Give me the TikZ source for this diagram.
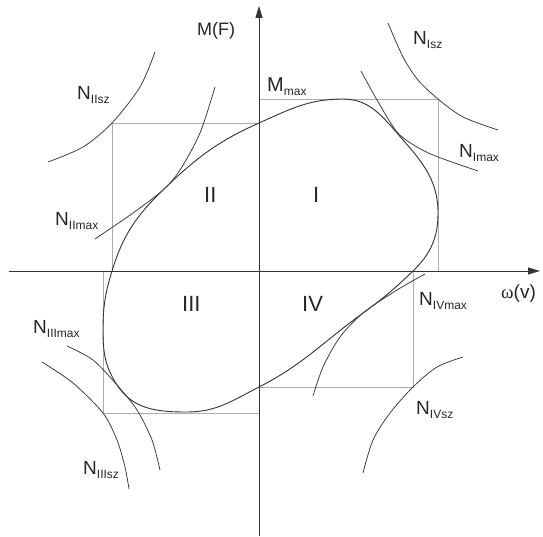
\documentclass[tikz,border=0pt]{standalone}
\usepackage{fontspec}
\setmainfont{Liberation Sans}
\newfontfamily\greekfont{Liberation Serif}
\usetikzlibrary{arrows.meta}

\newcommand{\Nsub}[2]{#1\raisebox{-4pt}{\fontsize{12}{12}\selectfont #2}}

\begin{document}
\begin{tikzpicture}[
    x=1pt, y=1pt,
    every node/.style={inner sep=0pt, anchor=base west},
    axis/.style ={-{Triangle[length=12pt,width=7pt]}, line width=0.9pt, black!80},
    box/.style  ={line width=0.6pt, gray!65},
    curve/.style={line width=0.9pt, black!80},
    hyp/.style  ={line width=0.8pt, black!75},
    lbl/.style  ={font=\fontsize{19}{20}\selectfont, text=black!85},
    quad/.style ={font=\fontsize{22}{24}\selectfont, text=black!85},
  ]
  \useasboundingbox (-259,-265) rectangle (284,271);

  % --- Grenzrechtecke ---
  \draw[box] (0,0) rectangle (179,172);
  \draw[box] (0,0) rectangle (-147,148);
  \draw[box] (0,0) rectangle (-156,-142);
  \draw[box] (0,0) rectangle (154,-116);

  % --- Achsen ---
  \coordinate (xl) at (-250,0);
  \coordinate (xr) at (281,0);
  \coordinate (yb) at (0,-265);
  \coordinate (yt) at (0,265);
  \draw[axis] (xl) -- (xr);
  \draw[axis] (yb) -- (yt);

  % --- Grenzkurve ---
  \draw[curve] (0,148)
      to[out=24,in=180]    (84,172)
      to[out=0,in=131]     (138,138)
      to[out=-49,in=90]    (179,58)
      to[out=-90,in=44]    (154,0)
      to[out=-136,in=36]   (104,-42)
      to[out=-144,in=27]   (0,-116)
      to[out=-153,in=0]    (-72,-141)
      to[out=180,in=-57]   (-142,-114)
      to[out=123,in=-90]   (-156,-59)
      to[out=90,in=-107]   (-147,0)
      to[out=73,in=-136]   (-96,81)
      to[out=44,in=-156]   (0,148) -- cycle;

  % --- Leistungshyperbeln ---
  \draw[hyp] plot[smooth] coordinates {(129,248) (144,214) (159,191) (179,172) (204,154) (239,141)};
  \draw[hyp] plot[smooth] coordinates {(102,200) (118,171) (138,139) (158,124) (179,114) (219,100)};
  \draw[hyp] plot[smooth] coordinates {(-104,219) (-119,184) (-147,148) (-176,124) (-211,109)};
  \draw[hyp] plot[smooth] coordinates {(-44,184) (-59,138) (-79,101) (-96,81) (-126,58) (-164,32)};
  \draw[hyp] plot[smooth] coordinates {(-192,-75) (-166,-89) (-142,-114) (-122,-139) (-107,-169) (-99,-199)};
  \draw[hyp] plot[smooth] coordinates {(-217,-91) (-186,-112) (-156,-142) (-142,-169) (-134,-196) (-130,-218)};
  \draw[hyp] plot[smooth] coordinates {(166,-3) (138,-19) (104,-42) (81,-66) (64,-96) (54,-125)};
  \draw[hyp] plot[smooth] coordinates {(204,-86) (178,-96) (154,-116) (131,-142) (114,-169) (104,-202)};

  % --- Beschriftungen ---
  \node[lbl, font=\fontsize{18}{20}\selectfont] (lMF) at (-62,235) {M(F)};
  \node[lbl, font=\fontsize{20}{20}\selectfont] (lMmax) at (8,179) {\Nsub{M}{max}};
  \node[lbl] (lIsz)   at (154,226)  {\Nsub{N}{Isz}};
  \node[lbl] (lImax)  at (200,114)  {\Nsub{N}{Imax}};
  \node[lbl] (lIIsz)  at (-182,172) {\Nsub{N}{IIsz}};
  \node[lbl] (lIImax) at (-204,46)  {\Nsub{N}{IImax}};
  \node[lbl] (lIIImax) at (-226,-62) {\Nsub{N}{IIImax}};
  \node[lbl] (lIIIsz) at (-176,-203) {\Nsub{N}{IIIsz}};
  \node[lbl] (lIVmax) at (160,-34)  {\Nsub{N}{IVmax}};
  \node[lbl] (lIVsz)  at (157,-143) {\Nsub{N}{IVsz}};
  \node[lbl] (lomega) at (242,-27)  {{\greekfont ω}(v)};

  \node[quad] (qI)   at (54,69)   {I};
  \node[quad] (qII)  at (-55,69)  {II};
  \node[quad] (qIII) at (-77,-40) {III};
  \node[quad] (qIV)  at (43,-40)  {IV};
\end{tikzpicture}
\end{document}
